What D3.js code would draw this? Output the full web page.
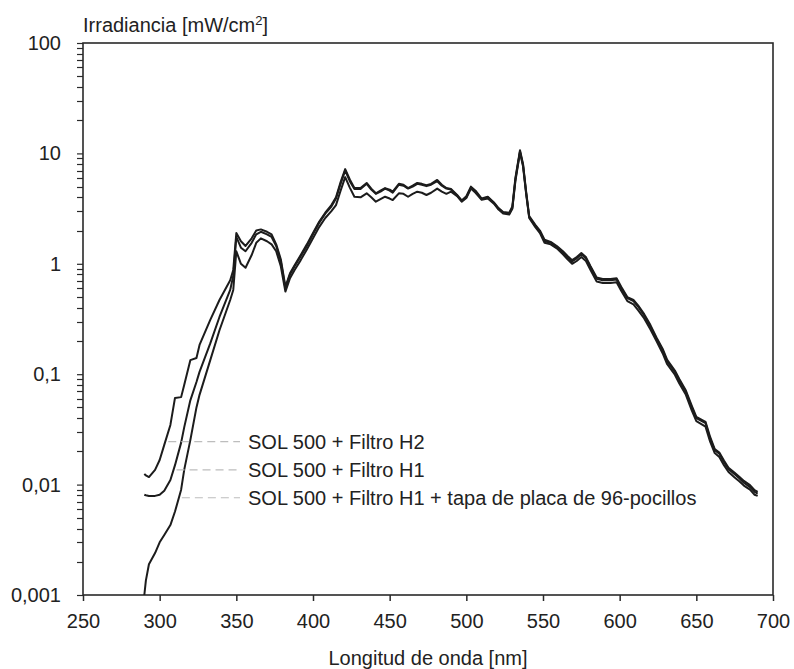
<!DOCTYPE html>
<html><head><meta charset="utf-8">
<script src="https://cdn.jsdelivr.net/npm/d3@7"></script>
<style>body{margin:0;background:#fff} text{font-family:"Liberation Sans",Arial,sans-serif;fill:#222}</style>
</head><body><svg id="c" width="794" height="669"></svg>
<script>
// wavelength grid (nm)
const wavelengths = [
 290,291,293,297,300,303,307,310,314,316,320,324,326,333,339,346,348,
 350,353,356,360,363,366,370,373,376,379,382,385,388,392,396,400,404,408,412,415,418,421,
 424,427,431,435,438,441,444,447,450,452,456,459,462,465,468,471,474,477,481,484,487,490,
 494,497,500,503,506,510,514,518,521,524,528,530,532,535,537,539,541,545,548,551,
 555,559,563,566,569,572,575,578,581,585,589,594,598,601,605,609,612,616,620,
 624,628,631,636,639,643,647,650,653,656,659,662,665,668,671,675,678,681,685,688,690];
// irradiance (mW/cm²)
const solH2 = [
 0.0125,0.0121,0.0117,0.0136,0.0167,0.0229,0.0347,0.061,0.062,0.080,0.134,0.140,0.184,0.31,0.47,0.71,0.88,
 1.9,1.6,1.45,1.7,2.0,2.05,1.95,1.85,1.5,1.1,0.62,0.82,0.97,1.2,1.5,1.9,2.4,2.9,3.4,4.0,5.5,7.2,
 5.8,4.85,4.85,5.4,4.8,4.35,4.6,4.85,4.7,4.5,5.3,5.2,4.85,5.1,5.4,5.3,5.15,5.3,5.75,5.2,4.85,4.75,
 4.2,3.75,4.1,5.0,4.6,3.9,4.05,3.6,3.2,2.95,2.9,3.3,6.0,10.7,8.0,4.5,2.7,2.25,2.0,1.65,
 1.58,1.45,1.3,1.18,1.08,1.15,1.25,1.15,0.95,0.75,0.73,0.73,0.74,0.62,0.5,0.47,0.42,0.35,0.28,
 0.215,0.17,0.135,0.108,0.09,0.072,0.052,0.041,0.039,0.037,0.027,0.021,0.0195,0.0165,0.0142,0.0128,0.0118,0.0108,0.0099,0.0089,0.0086];
const solH1 = [
 0.0081,0.0080,0.0079,0.0079,0.0081,0.0088,0.011,0.015,0.024,0.033,0.058,0.085,0.105,0.19,0.33,0.58,0.78,
 1.75,1.4,1.3,1.55,1.85,1.95,1.85,1.75,1.45,1.05,0.6,0.8,0.95,1.17,1.45,1.85,2.35,2.85,3.3,3.9,5.3,7.0,
 5.6,4.75,4.75,5.3,4.7,4.3,4.5,4.8,4.6,4.4,5.2,5.1,4.8,5.0,5.3,5.2,5.05,5.2,5.6,5.1,4.8,4.7,
 4.15,3.7,4.0,4.9,4.5,3.85,4.0,3.55,3.15,2.9,2.85,3.2,5.8,10.4,7.8,4.4,2.65,2.2,1.95,1.6,
 1.55,1.42,1.27,1.15,1.05,1.12,1.22,1.12,0.93,0.73,0.71,0.71,0.72,0.6,0.49,0.46,0.41,0.34,0.27,
 0.21,0.165,0.13,0.105,0.087,0.07,0.05,0.04,0.038,0.036,0.026,0.0205,0.019,0.016,0.0138,0.0124,0.0114,0.0104,0.0095,0.0086,0.0083];
const solH1Tapa = [
 0.001,0.00135,0.0019,0.0024,0.0030,0.0035,0.0043,0.0057,0.009,0.0136,0.0253,0.05,0.065,0.134,0.25,0.47,0.58,
 1.3,1.0,0.92,1.2,1.55,1.7,1.6,1.5,1.3,0.95,0.56,0.74,0.88,1.08,1.35,1.7,2.15,2.6,3.0,3.4,4.6,6.1,
 4.9,4.05,4.0,4.35,4.0,3.65,3.85,4.05,3.9,3.78,4.35,4.3,4.05,4.3,4.5,4.4,4.2,4.4,4.8,4.5,4.3,4.5,
 4.1,3.65,3.95,4.8,4.4,3.8,3.9,3.5,3.1,2.85,2.8,3.15,5.6,10.2,7.6,4.3,2.6,2.15,1.9,1.55,
 1.5,1.38,1.22,1.1,1.0,1.06,1.15,1.06,0.88,0.69,0.67,0.67,0.68,0.57,0.46,0.43,0.38,0.32,0.255,
 0.2,0.155,0.123,0.099,0.082,0.066,0.047,0.0375,0.0355,0.0335,0.0245,0.0193,0.0178,0.015,0.013,0.0116,0.0107,0.0098,0.009,0.0081,0.0079];

const seriesNames = ["SOL 500 + Filtro H2", "SOL 500 + Filtro H1", "SOL 500 + Filtro H1 + tapa de placa de 96-pocillos"];
const labelLevels = [0.0245, 0.0136, 0.0076]; // irradiance level at which each label sits
const xTicks = [250,300,350,400,450,500,550,600,650,700];
const yTicks = [0.001,0.01,0.1,1,10,100];
const yTickLabels = ["0,001","0,01","0,1","1","10","100"];

const svg = d3.select("#c");
const x = d3.scaleLinear().domain([250,700]).range([83,773]);
const y = d3.scaleLog().domain([0.001,100]).range([595,43]);

const axisColor = "#2a2a2a";

// minor y ticks
const minor = [];
for (let e = -3; e < 2; e++) for (let k = 2; k <= 9; k++) minor.push(k * Math.pow(10, e));
svg.append("g").selectAll("line").data(minor).join("line")
  .attr("x1", 77).attr("x2", 83)
  .attr("y1", d => Math.round(y(d)) + 0.5).attr("y2", d => Math.round(y(d)) + 0.5)
  .attr("stroke", axisColor).attr("stroke-width", 1.2);

// y axis
const gy = svg.append("g").attr("transform", "translate(83,0)")
  .call(d3.axisLeft(y).tickValues(yTicks).tickFormat((d,i) => yTickLabels[i]).tickSize(6).tickPadding(16));
gy.select(".domain").remove();
gy.selectAll(".tick line").attr("stroke", axisColor).attr("stroke-width", 1.2);
gy.selectAll(".tick text").attr("font-size", 20).attr("font-family", "Liberation Sans, Arial, sans-serif").attr("fill", "#222");

// x axis
const gx = svg.append("g").attr("transform", "translate(0,595)")
  .call(d3.axisBottom(x).tickValues(xTicks).tickFormat(d3.format("d")).tickSize(6).tickPadding(13));
gx.select(".domain").remove();
gx.selectAll(".tick line").attr("stroke", axisColor).attr("stroke-width", 1.5);
gx.selectAll(".tick text").attr("font-size", 20).attr("font-family", "Liberation Sans, Arial, sans-serif").attr("fill", "#222");

// frame
svg.append("rect").attr("x", 83).attr("y", 43).attr("width", 690).attr("height", 552)
  .attr("fill", "none").attr("stroke", axisColor).attr("stroke-width", 1.6);

// curves
const series = [solH2, solH1, solH1Tapa];
const line = d3.line().x((d) => x(d[0])).y(d => y(d[1])).curve(d3.curveLinear);
series.forEach(vals => {
  svg.append("path")
    .datum(wavelengths.map((w,i) => [w, vals[i]]))
    .attr("d", line)
    .attr("fill", "none").attr("stroke", "#1c1c1c").attr("stroke-width", 2)
    .attr("stroke-linejoin", "round");
});

// labels with dashed leaders
const textX = 248;
series.forEach((vals, s) => {
  const lv = labelLevels[s];
  let cx = x(wavelengths[0]);
  for (let i = 1; i < vals.length; i++) {
    if (vals[i] >= lv && vals[i-1] < lv) {
      const t = (Math.log(lv) - Math.log(vals[i-1])) / (Math.log(vals[i]) - Math.log(vals[i-1]));
      cx = x(wavelengths[i-1] + t * (wavelengths[i] - wavelengths[i-1]));
      break;
    }
  }
  const yy = y(lv);
  svg.append("line").attr("x1", cx + 3).attr("x2", textX - 8).attr("y1", yy).attr("y2", yy)
    .attr("stroke", "#bdbdbd").attr("stroke-width", 1.2).attr("stroke-dasharray", "8,5");
  svg.append("text").attr("x", textX).attr("y", yy).attr("dy", "0.35em")
    .attr("font-size", 20).text(seriesNames[s]);
});

// axis titles
svg.append("text").attr("x", 428).attr("y", 665).attr("text-anchor", "middle")
  .attr("font-size", 20).text("Longitud de onda [nm]");
const yt = svg.append("text").attr("x", 83).attr("y", 32).attr("font-size", 20);
yt.append("tspan").text("Irradiancia [mW/cm");
yt.append("tspan").attr("font-size", 13).attr("dy", -7).text("2");
yt.append("tspan").attr("dy", 7).text("]");
</script></body></html>
